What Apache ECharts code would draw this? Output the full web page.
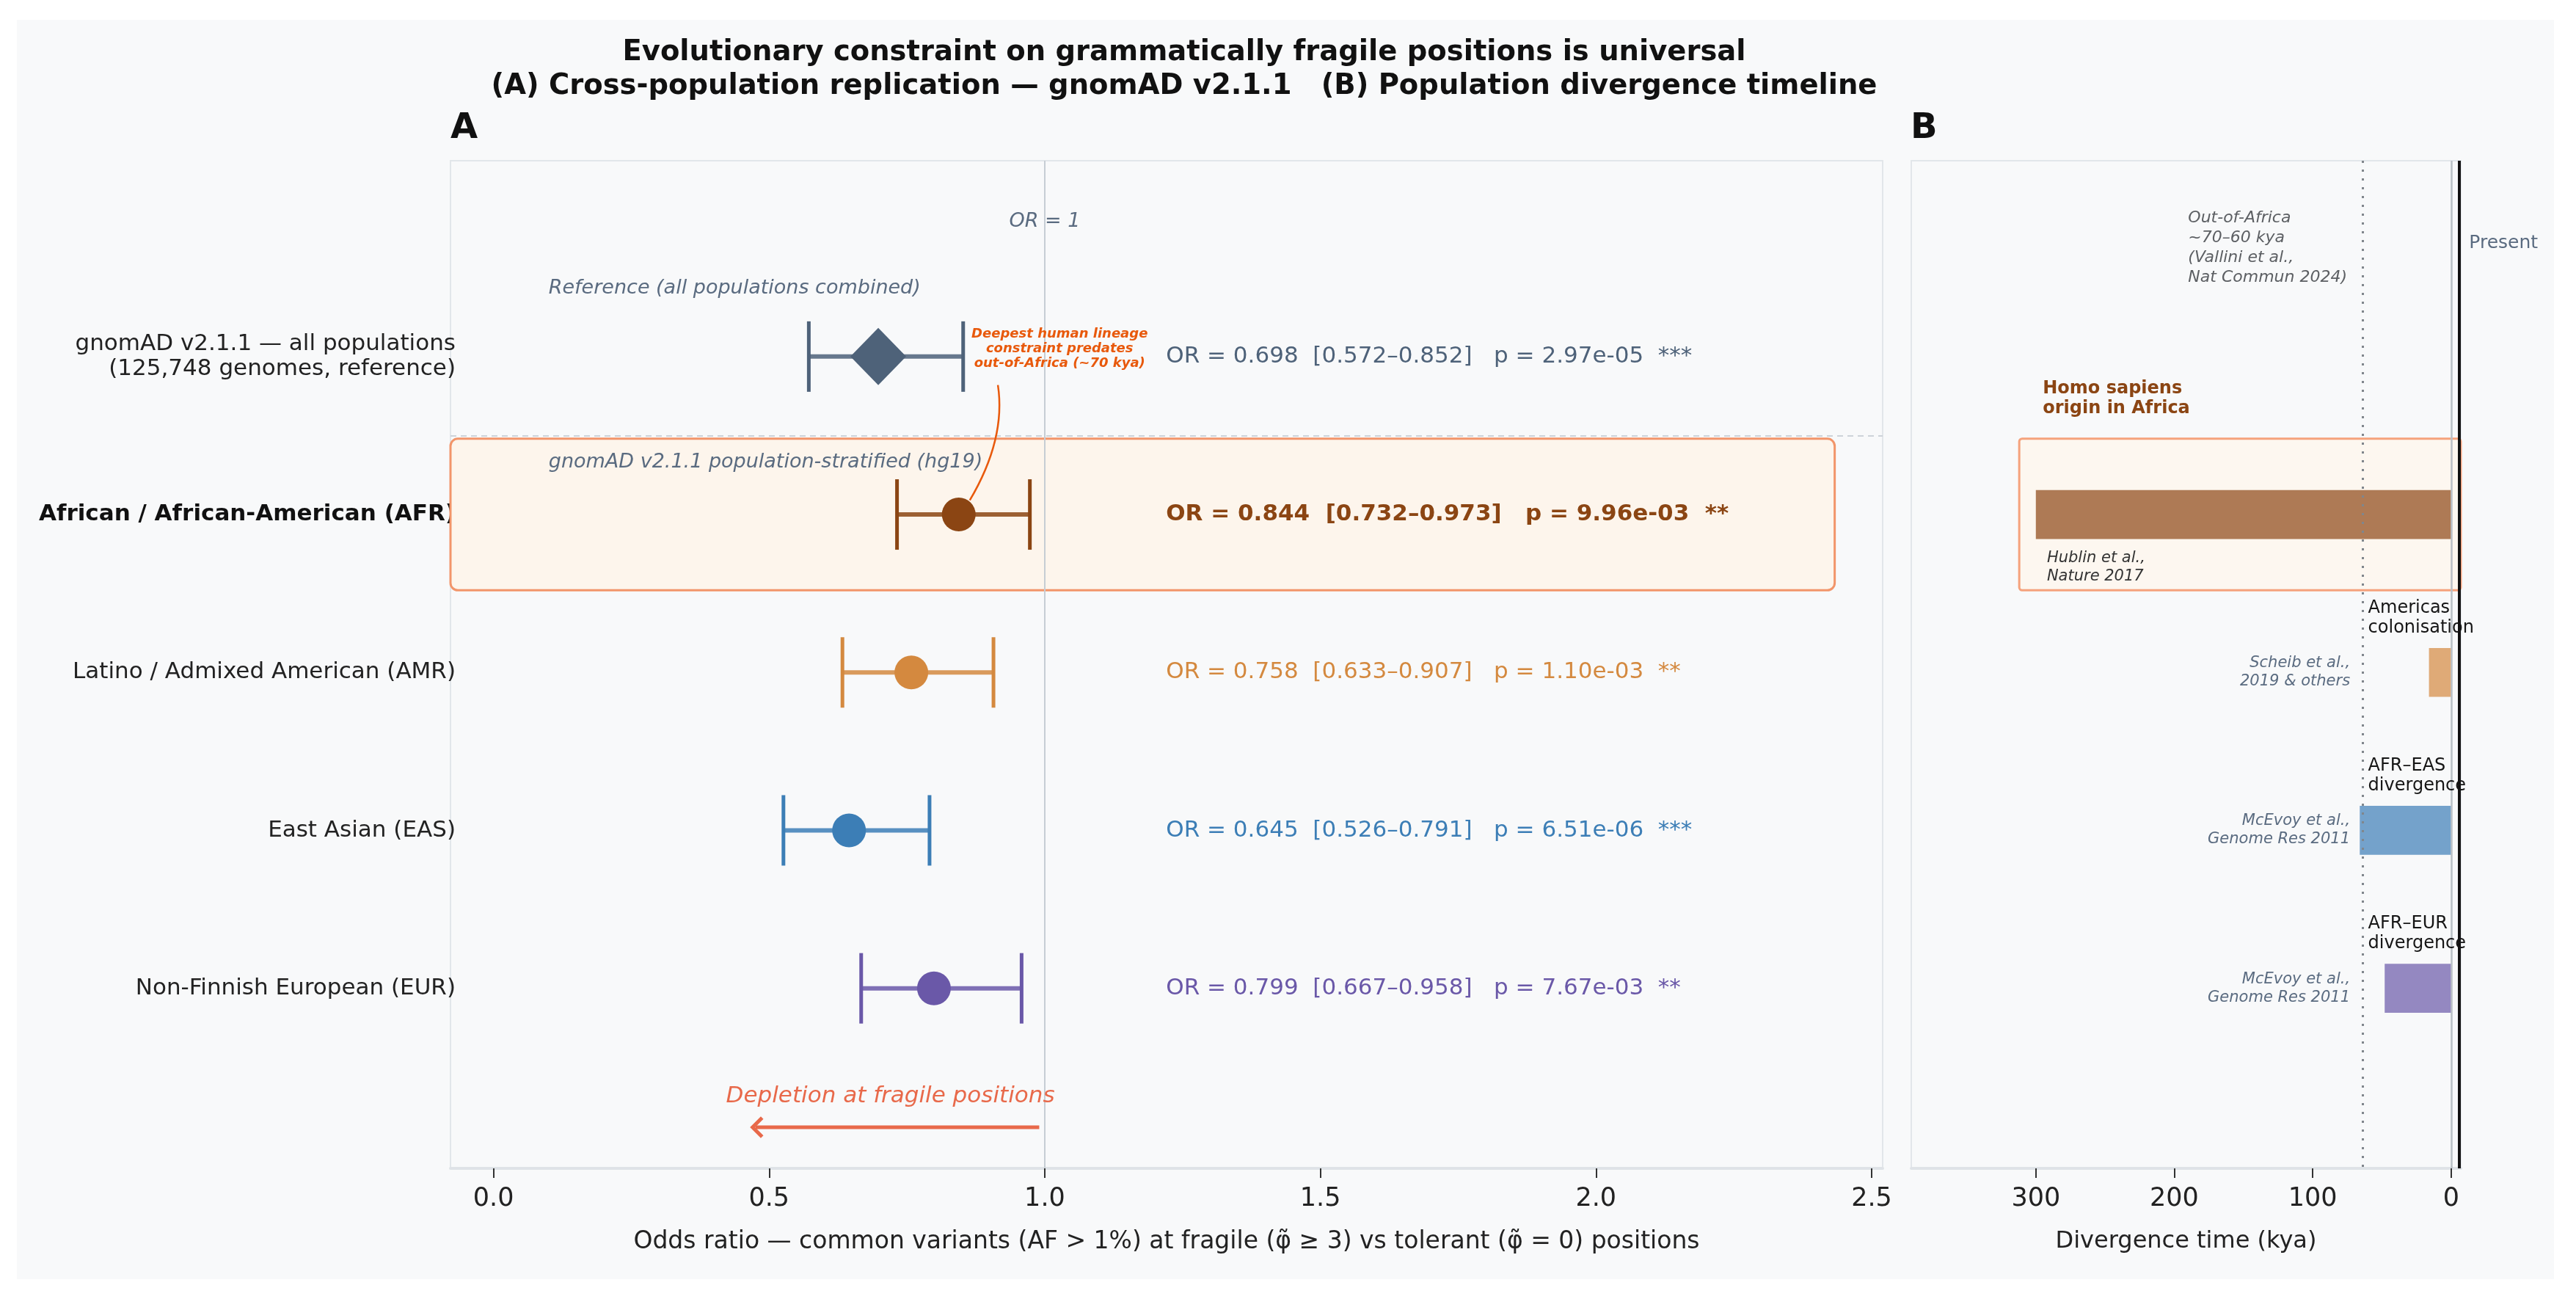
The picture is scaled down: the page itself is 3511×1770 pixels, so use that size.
<!DOCTYPE html>
<html><head><meta charset="utf-8">
<script src="https://cdn.jsdelivr.net/npm/echarts@6/dist/echarts.min.js"></script>
<style>html,body{margin:0;padding:0;background:#ffffff}#chart{width:3511px;height:1770px}</style>
</head><body><div id="chart"></div>
<script>
// ---------------- DATA ----------------
const rowLabels = [
  'gnomAD v2.1.1 — all populations\n(125,748 genomes, reference)',
  'African / African-American (AFR)',
  'Latino / Admixed American (AMR)',
  'East Asian (EAS)',
  'Non-Finnish European (EUR)'
];
const orValues = [0.698, 0.844, 0.758, 0.645, 0.799];
const ciLow    = [0.572, 0.732, 0.633, 0.526, 0.667];
const ciHigh   = [0.852, 0.973, 0.907, 0.791, 0.958];
const pValues  = ['2.97e-05', '9.96e-03', '1.10e-03', '6.51e-06', '7.67e-03'];
const sigStars = ['***', '**', '**', '***', '**'];
const popColors = ['#4e6279', '#8b4513', '#d4893f', '#3c7eb6', '#6a58a8'];

// panel B (rows 1..4 = AFR, AMR, EAS, EUR)
const divRows   = [1, 2, 3, 4];
const divKya    = [300, 16, 66, 48];
const divLabels = ['Homo sapiens\norigin in Africa', 'Americas\ncolonisation', 'AFR–EAS\ndivergence', 'AFR–EUR\ndivergence'];
const divCites  = ['Hublin et al.,\nNature 2017', 'Scheib et al.,\n2019 & others', 'McEvoy et al.,\nGenome Res 2011', 'McEvoy et al.,\nGenome Res 2011'];
const outOfAfricaKya = 64;

const xTicksA = [0, 0.5, 1, 1.5, 2, 2.5];
const xTicksB = [0, 100, 200, 300];
const rowTicks = [0, 1, 2, 3, 4];

// ---------------- CHART ----------------
const FONT = "'DejaVu Sans', sans-serif";
const BG = '#f8f9fa';
const SLATE = '#5a6b80';
const ACCENT = '#e8590c';
const AXA = {min: -0.078, max: 2.52};
const AXB = {min: -7, max: 390};
const YR = {min: -1.24, max: 5.14};
const HIGHLIGHT_ROW = 1;

function T(pt, text, o) {
  return {
    type: 'text', x: pt[0], y: pt[1], z2: 10,
    style: Object.assign({
      text: text, fill: '#222', fontFamily: FONT, fontSize: 22,
      align: 'left', verticalAlign: 'middle'
    }, o || {})
  };
}

const chart = echarts.init(document.getElementById('chart'), null, {renderer: 'canvas'});

const xAxisCommon = {
  type: 'value',
  splitLine: {show: false},
  axisLine: {show: true, onZero: false, lineStyle: {color: '#dfe3e7', width: 4}},
  axisTick: {show: true, length: 13, lineStyle: {color: '#333', width: 2}},
  axisLabel: {fontFamily: FONT, fontSize: 35, color: '#222', margin: 24},
  nameLocation: 'middle', nameGap: 84,
  nameTextStyle: {fontFamily: FONT, fontSize: 32, color: '#222'}
};

const option = {
  animation: false,
  backgroundColor: '#ffffff',
  graphic: [
    {type: 'rect', shape: {x: 23, y: 27, width: 3458, height: 1716}, style: {fill: BG}, z: -10, silent: true},
    {type: 'text', x: 1614, y: 72, style: {text: 'Evolutionary constraint on grammatically fragile positions is universal', fontFamily: FONT, fontWeight: 'bold', fontSize: 38.5, fill: '#111', align: 'center', verticalAlign: 'middle'}},
    {type: 'text', x: 1614, y: 118, style: {text: '(A) Cross-population replication — gnomAD v2.1.1   (B) Population divergence timeline', fontFamily: FONT, fontWeight: 'bold', fontSize: 38.5, fill: '#111', align: 'center', verticalAlign: 'middle'}},
    {type: 'text', x: 614, y: 176, style: {text: 'A', fontFamily: FONT, fontWeight: 'bold', fontSize: 48, fill: '#111', align: 'left', verticalAlign: 'middle'}},
    {type: 'text', x: 2604, y: 176, style: {text: 'B', fontFamily: FONT, fontWeight: 'bold', fontSize: 48, fill: '#111', align: 'left', verticalAlign: 'middle'}}
  ],
  grid: [
    {left: 614, top: 219, width: 1952, height: 1373, show: true, backgroundColor: BG, borderColor: '#e2e6ea', borderWidth: 2},
    {left: 2605, top: 219, width: 749, height: 1373, show: true, backgroundColor: BG, borderColor: '#e2e6ea', borderWidth: 2}
  ],
  xAxis: [
    Object.assign({}, xAxisCommon, {
      gridIndex: 0, min: AXA.min, max: AXA.max,
      name: 'Odds ratio — common variants (AF > 1%) at fragile (φ̃ ≥ 3) vs tolerant (φ̃ = 0) positions',
      nameTextStyle: {fontFamily: FONT, fontSize: 33, color: '#222'},
      axisTick: Object.assign({}, xAxisCommon.axisTick, {customValues: xTicksA}),
      axisLabel: Object.assign({}, xAxisCommon.axisLabel, {customValues: xTicksA, formatter: v => v.toFixed(1)})
    }),
    Object.assign({}, xAxisCommon, {
      gridIndex: 1, min: AXB.min, max: AXB.max, inverse: true,
      name: 'Divergence time (kya)',
      axisTick: Object.assign({}, xAxisCommon.axisTick, {customValues: xTicksB}),
      axisLabel: Object.assign({}, xAxisCommon.axisLabel, {customValues: xTicksB, formatter: v => String(Math.round(v))})
    })
  ],
  yAxis: [
    {
      type: 'value', gridIndex: 0, min: YR.min, max: YR.max, inverse: true,
      splitLine: {show: false}, axisLine: {show: false}, axisTick: {show: false},
      axisLabel: {
        customValues: rowTicks, margin: -7,
        fontFamily: FONT, fontSize: 31, color: '#222', lineHeight: 34, align: 'right',
        formatter: v => {
          const i = Math.round(v);
          return i === HIGHLIGHT_ROW ? '{b|' + rowLabels[i] + '}' : rowLabels[i];
        },
        rich: {b: {fontFamily: FONT, fontSize: 31, fontWeight: 'bold', color: '#111'}}
      }
    },
    {
      type: 'value', gridIndex: 1, min: YR.min, max: YR.max, inverse: true,
      splitLine: {show: false}, axisLine: {show: false}, axisTick: {show: false}, axisLabel: {show: false}
    }
  ],
  series: [
    // highlight box A
    {
      type: 'custom', xAxisIndex: 0, yAxisIndex: 0, z: 1, silent: true,
      data: [[HIGHLIGHT_ROW]],
      renderItem: (params, api) => {
        const r = api.value(0);
        const p1 = api.coord([AXA.min, r - 0.48]);
        const p2 = api.coord([2.433, r + 0.48]);
        return {type: 'rect', shape: {x: p1[0], y: p1[1], width: p2[0] - p1[0], height: p2[1] - p1[1], r: 10},
          style: {fill: '#fdf5ec', stroke: '#f2956a', lineWidth: 3}};
      }
    },
    // error bars
    {
      type: 'custom', xAxisIndex: 0, yAxisIndex: 0, z: 3, silent: true,
      data: rowTicks.map(i => [rowTicks[i], ciLow[i], ciHigh[i]]),
      renderItem: (params, api) => {
        const y = api.value(0);
        const a = api.coord([api.value(1), y]);
        const b = api.coord([api.value(2), y]);
        const c = popColors[params.dataIndex];
        const h = 48;
        return {type: 'group', children: [
          {type: 'line', shape: {x1: a[0], y1: a[1], x2: b[0], y2: b[1]}, style: {stroke: c, lineWidth: 6, opacity: 0.85}},
          {type: 'line', shape: {x1: a[0], y1: a[1] - h, x2: a[0], y2: a[1] + h}, style: {stroke: c, lineWidth: 5}},
          {type: 'line', shape: {x1: b[0], y1: b[1] - h, x2: b[0], y2: b[1] + h}, style: {stroke: c, lineWidth: 5}}
        ]};
      }
    },
    // point estimates
    {
      type: 'scatter', xAxisIndex: 0, yAxisIndex: 0, z: 4, silent: true,
      data: rowTicks.map(i => ({
        value: [orValues[i], rowTicks[i]],
        symbol: i === 0 ? 'diamond' : 'circle',
        symbolSize: i === 0 ? [76, 78] : 46,
        itemStyle: {color: popColors[i], opacity: 1}
      })),
      markLine: {
        silent: true, symbol: ['none', 'none'], label: {show: false},
        data: [
          {xAxis: 1, lineStyle: {color: '#c6cdd4', width: 2, type: 'solid'}},
          {yAxis: 0.5, lineStyle: {color: '#cdd3d9', width: 2, type: [8, 6]}}
        ]
      }
    },
    // statistics text
    {
      type: 'custom', xAxisIndex: 0, yAxisIndex: 0, z: 5, silent: true,
      data: rowTicks.map(i => [rowTicks[i], orValues[i], ciLow[i], ciHigh[i]]),
      renderItem: (params, api) => {
        const i = params.dataIndex;
        const p = api.coord([1.22, api.value(0)]);
        const s = 'OR = ' + orValues[i].toFixed(3) + '  [' + ciLow[i].toFixed(3) + '–' + ciHigh[i].toFixed(3) + ']   p = ' + pValues[i] + '  ' + sigStars[i];
        return T(p, s, {fill: popColors[i], fontSize: 31, fontWeight: i === HIGHLIGHT_ROW ? 'bold' : 'normal'});
      }
    },
    // panel A annotations
    {
      type: 'custom', xAxisIndex: 0, yAxisIndex: 0, z: 6, silent: true,
      data: [[0]],
      renderItem: (params, api) => {
        const start = api.coord([0.915, 0.18]);
        const ctrl = api.coord([0.93, 0.52]);
        const end = api.coord([0.864, 0.91]);
        const a0 = api.coord([0.99, 4.88]);
        const a1 = api.coord([0.47, 4.88]);
        return {type: 'group', children: [
          T(api.coord([1.0, -0.856]), 'OR = 1', {fill: SLATE, fontSize: 27, fontStyle: 'italic', align: 'center'}),
          T(api.coord([0.10, -0.43]), 'Reference (all populations combined)', {fill: SLATE, fontSize: 27, fontStyle: 'italic'}),
          T(api.coord([0.10, 0.67]), 'gnomAD v2.1.1 population-stratified (hg19)', {fill: SLATE, fontSize: 27, fontStyle: 'italic'}),
          T(api.coord([1.027, -0.05]), 'Deepest human lineage\nconstraint predates\nout-of-Africa (~70 kya)', {fill: ACCENT, fontSize: 18, fontStyle: 'italic', fontWeight: 'bold', align: 'center', lineHeight: 20}),
          {type: 'bezierCurve', shape: {x1: start[0], y1: start[1], x2: end[0], y2: end[1], cpx1: ctrl[0], cpy1: ctrl[1]}, style: {stroke: ACCENT, lineWidth: 2.5, fill: null}},
          T(api.coord([0.72, 4.684]), 'Depletion at fragile positions', {fill: '#e8694a', fontSize: 31, fontStyle: 'italic', align: 'center'}),
          {type: 'line', shape: {x1: a0[0], y1: a0[1], x2: a1[0] + 4, y2: a1[1]}, style: {stroke: '#e8694a', lineWidth: 5}},
          {type: 'polyline', shape: {points: [[a1[0] + 13, a1[1] - 13], [a1[0], a1[1]], [a1[0] + 13, a1[1] + 13]]}, style: {stroke: '#e8694a', lineWidth: 5, fill: null, lineJoin: 'miter'}}
        ]};
      }
    },
    // highlight box B
    {
      type: 'custom', xAxisIndex: 1, yAxisIndex: 1, z: 1, silent: true,
      data: [[HIGHLIGHT_ROW]],
      renderItem: (params, api) => {
        const r = api.value(0);
        const p1 = api.coord([312, r - 0.48]);
        const p2 = api.coord([AXB.min, r + 0.48]);
        return {type: 'rect', shape: {x: p1[0], y: p1[1], width: p2[0] - p1[0], height: p2[1] - p1[1], r: 4},
          style: {fill: '#fdf7f0', stroke: '#f5a27c', lineWidth: 3}};
      }
    },
    // divergence bars
    {
      type: 'custom', xAxisIndex: 1, yAxisIndex: 1, z: 3, silent: true,
      data: divRows.map((r, k) => [r, divKya[k]]),
      renderItem: (params, api) => {
        const r = api.value(0);
        const p1 = api.coord([api.value(1), r - 0.155]);
        const p2 = api.coord([0, r + 0.155]);
        return {type: 'rect', shape: {x: p1[0], y: p1[1], width: p2[0] - p1[0], height: p2[1] - p1[1]},
          style: {fill: popColors[r], opacity: 0.7}};
      },
      markLine: {
        silent: true, symbol: ['none', 'none'], label: {show: false},
        data: [
          {xAxis: outOfAfricaKya, lineStyle: {color: '#80868c', width: 3, type: [3, 9]}},
          {xAxis: 0, lineStyle: {color: '#b9bfc5', width: 2.5, type: 'solid'}},
          {xAxis: -6, lineStyle: {color: '#111', width: 4, type: 'solid'}}
        ]
      }
    },
    // panel B texts
    {
      type: 'custom', xAxisIndex: 1, yAxisIndex: 1, z: 6, silent: true,
      data: divRows.map((r, k) => [r, divKya[k]]),
      renderItem: (params, api) => {
        const k = params.dataIndex;
        const r = api.value(0);
        const kids = [];
        if (k === 0) {
          kids.push(T(api.coord([295, r - 0.733]), divLabels[k], {fill: '#8b4513', fontSize: 24, fontWeight: 'bold', lineHeight: 27}));
          kids.push(T(api.coord([292, r + 0.333]), divCites[k], {fill: '#333', fontSize: 21, fontStyle: 'italic', lineHeight: 25}));
          kids.push(T(api.coord([190, -0.688]), 'Out-of-Africa\n~70–60 kya\n(Vallini et al.,\nNat Commun 2024)', {fill: '#5c5f63', fontSize: 22, fontStyle: 'italic', lineHeight: 27}));
          kids.push(T(api.coord([-13, -0.716]), 'Present', {fill: SLATE, fontSize: 25}));
        } else {
          kids.push(T(api.coord([60, r - 0.345]), divLabels[k], {fill: '#151515', fontSize: 24, lineHeight: 27}));
          kids.push(T(api.coord([73, r]), divCites[k], {fill: SLATE, fontSize: 21, fontStyle: 'italic', lineHeight: 25, align: 'right'}));
        }
        return {type: 'group', children: kids};
      }
    }
  ]
};
chart.setOption(option);
</script>
</body></html>
